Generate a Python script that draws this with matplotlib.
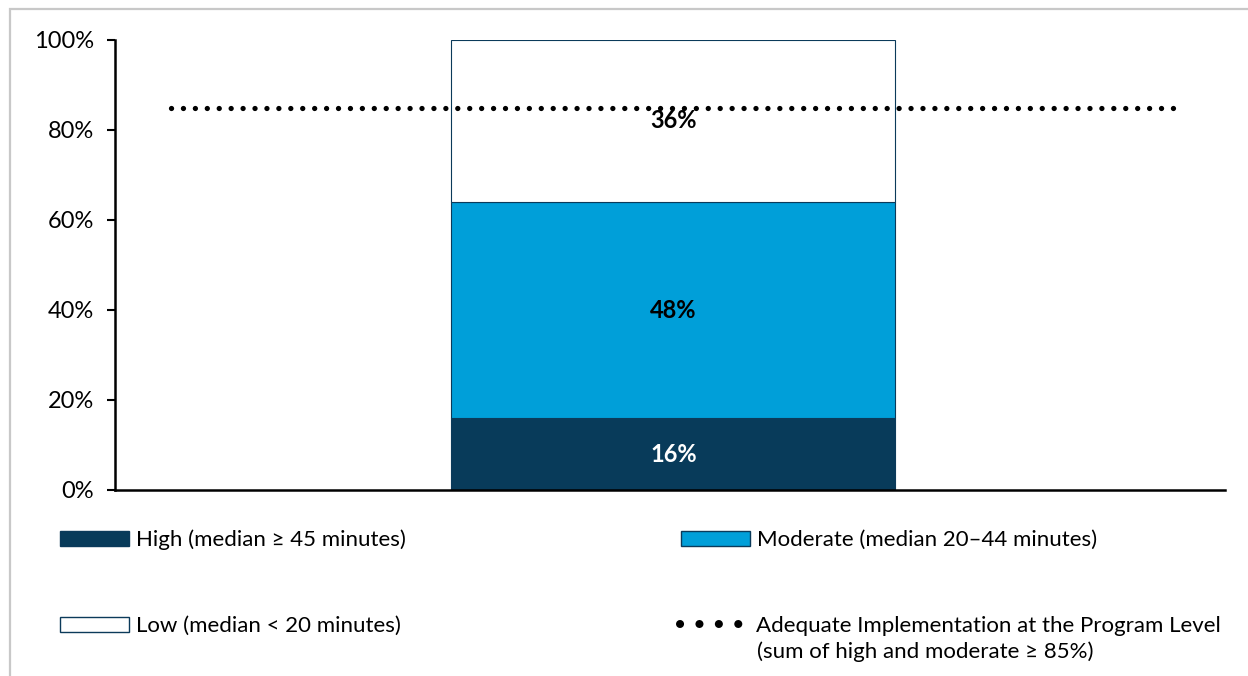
import matplotlib.pyplot as plt
from matplotlib.patches import Patch, Rectangle
from matplotlib.lines import Line2D

# data
categories = ['Program']
series = ['High (median \u2265 45 minutes)', 'Moderate (median 20\u201344 minutes)', 'Low (median < 20 minutes)']
values = [16, 48, 36]
colors = ['#083B5A', '#009FD9', '#FFFFFF']
label_colors = ['white', 'black', 'black']
threshold = 85
threshold_label = ['Adequate Implementation at the Program Level', '(sum of high and moderate \u2265 85%)']
yticks = [0, 20, 40, 60, 80, 100]

plt.rcParams['font.family'] = ['Lato', 'DejaVu Sans']

W, H = 1248, 676
fig = plt.figure(figsize=(W / 100, H / 100), dpi=100)
ax = fig.add_axes([115 / W, 1 - 490 / H, 1110 / W, 450 / H])

# gray chart frame
fig.patches.append(Rectangle((10 / W, -0.1), 1.2, 1 - 9 / H + 0.1, transform=fig.transFigure,
                             fill=False, edgecolor='#C8C8C8', lw=1.6))

bottom = 0
for v, c, lc in zip(values, colors, label_colors):
    ax.bar(0, v, width=0.4, bottom=bottom, color=c, edgecolor='#0B3A5A', linewidth=0.8, zorder=2)
    ax.text(0, bottom + v / 2, f'{v}%', ha='center', va='center', fontsize=17,
            fontweight='bold', color=lc, zorder=4)
    bottom += v

ax.plot([-0.453, 0.458], [threshold, threshold], color='black', lw=3.8,
        linestyle=(0, (0.01, 2.25)), dash_capstyle='round', zorder=3)

ax.set_xlim(-0.503, 0.497)
ax.set_ylim(0, 100)
ax.set_yticks(yticks)
ax.set_yticklabels([f'{t}%' for t in yticks], fontsize=17)
ax.set_xticks([])
ax.tick_params(axis='y', direction='out', length=6, width=1.5, pad=9)
for s in ['top', 'right']:
    ax.spines[s].set_visible(False)
for s in ['left', 'bottom']:
    ax.spines[s].set_linewidth(1.8)

# legend entries, placed one by one
fs = 16
def add_entry(handle, label, x, y, hl=3.1, pad=0.33):
    leg = fig.legend([handle], [label], loc='center left', bbox_to_anchor=(x / W, 1 - y / H),
                     frameon=False, fontsize=fs, handlelength=hl, handleheight=0.65,
                     handletextpad=pad, borderpad=0, borderaxespad=0)
    return leg

add_entry(Patch(facecolor=colors[0], edgecolor='#0B3A5A'), series[0], 60, 540)
add_entry(Patch(facecolor=colors[1], edgecolor='#0B3A5A'), series[1], 681, 540)
add_entry(Patch(facecolor=colors[2], edgecolor='#0B3A5A'), series[2], 60, 626)
add_entry(Line2D([], [], color='black', lw=5.8, linestyle=(0, (0.01, 2.4)), dash_capstyle='round'),
          threshold_label[0], 680, 626, hl=2.75, pad=0.65)
fig.text(757 / W, 1 - 652 / H, threshold_label[1], fontsize=fs, ha='left', va='center')

fig.savefig('out.png', dpi=100)
